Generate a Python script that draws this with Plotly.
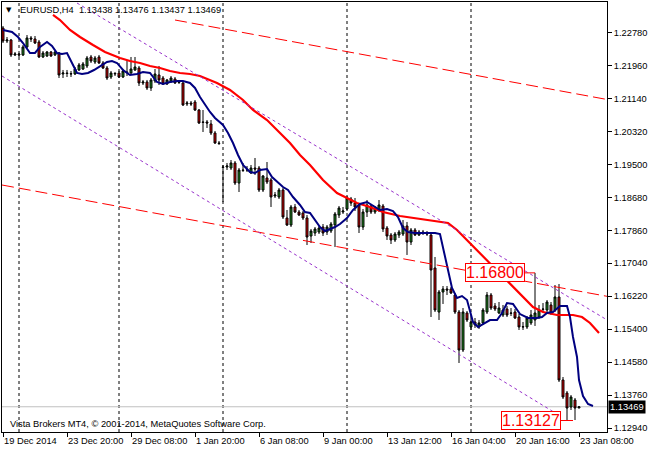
import plotly.graph_objects as go

# EURUSD H4 candles, bar index 0 = 19 Dec 2014
bars = list(range(145))

opens = [
    1.22892, 1.22569, 1.22594, 1.22221, 1.22246, 1.22221, 1.22420, 1.22644, 1.22619, 1.22544,
    1.22171, 1.22196, 1.22295, 1.22221, 1.22270, 1.21748, 1.21773, 1.21748, 1.21748, 1.21848,
    1.21872, 1.21947, 1.22171, 1.22046, 1.22171, 1.22022, 1.21897, 1.21673, 1.21748, 1.21773,
    1.21673, 1.21798, 1.21773, 1.21848, 1.21897, 1.21524, 1.21549, 1.21400, 1.21574, 1.21723,
    1.21648, 1.21499, 1.21574, 1.21624, 1.21549, 1.21524, 1.21002, 1.21026, 1.21051, 1.20852,
    1.20554, 1.20554, 1.20504, 1.20280, 1.20031, 1.19434, 1.19434, 1.19409, 1.19534, 1.19036,
    1.19359, 1.19359, 1.19285, 1.19409, 1.19409, 1.18862, 1.19160, 1.19111, 1.18713, 1.18688,
    1.18862, 1.18165, 1.17991, 1.18439, 1.18314, 1.18290, 1.18165, 1.17717, 1.17792, 1.17817,
    1.17941, 1.17817, 1.17842, 1.17991, 1.18240, 1.18314, 1.18389, 1.18638, 1.18538, 1.18489,
    1.17941, 1.18314, 1.18464, 1.18314, 1.18364, 1.18464, 1.17916, 1.17742, 1.17618, 1.17742,
    1.17767, 1.17966, 1.17568, 1.17867, 1.17742, 1.17817, 1.17792, 1.17742, 1.16921, 1.15826,
    1.16324, 1.16399, 1.16399, 1.16249, 1.15826, 1.14881, 1.15802, 1.15454, 1.15578, 1.15454,
    1.15554, 1.15826, 1.16249, 1.15976, 1.15802, 1.15752, 1.15901, 1.15802, 1.15826, 1.15702,
    1.15454, 1.15454, 1.15554, 1.15628, 1.15702, 1.15901, 1.15876, 1.16001, 1.15876, 1.16200,
    1.14135, 1.13811, 1.13463, 1.13637, 1.13438,
]
highs = [
    1.22942, 1.22668, 1.22619, 1.22295, 1.22270, 1.22469, 1.22718, 1.22693, 1.22693, 1.22594,
    1.22320, 1.22320, 1.22320, 1.22320, 1.22295, 1.21848, 1.21848, 1.21823, 1.21922, 1.22022,
    1.22046, 1.22196, 1.22221, 1.22196, 1.22221, 1.22071, 1.21947, 1.21823, 1.21798, 1.21823,
    1.21872, 1.22096, 1.22171, 1.22171, 1.21947, 1.21599, 1.21599, 1.21648, 1.21872, 1.21947,
    1.21698, 1.21624, 1.21698, 1.21673, 1.21599, 1.21549, 1.21076, 1.21076, 1.21101, 1.20877,
    1.20852, 1.20603, 1.20603, 1.20330, 1.20081, 1.19484, 1.19534, 1.19608, 1.19583, 1.19409,
    1.19534, 1.19459, 1.19484, 1.19658, 1.19459, 1.19235, 1.19558, 1.19160, 1.18812, 1.18912,
    1.18912, 1.18364, 1.18489, 1.18514, 1.18364, 1.18339, 1.18240, 1.17892, 1.17941, 1.17966,
    1.18016, 1.17991, 1.18066, 1.18314, 1.18464, 1.18439, 1.18713, 1.18688, 1.18663, 1.18538,
    1.18389, 1.18613, 1.18514, 1.18464, 1.18613, 1.18514, 1.17966, 1.17792, 1.17817, 1.17867,
    1.18115, 1.18066, 1.17916, 1.17916, 1.17867, 1.17867, 1.17842, 1.17792, 1.17195, 1.16374,
    1.16473, 1.16473, 1.16448, 1.16299, 1.15876, 1.15926, 1.15851, 1.15677, 1.15677, 1.15628,
    1.15926, 1.16324, 1.16299, 1.16050, 1.16075, 1.16001, 1.15976, 1.15926, 1.15901, 1.15777,
    1.15578, 1.15727, 1.15876, 1.16800, 1.16001, 1.16050, 1.16125, 1.16075, 1.16498, 1.16523,
    1.14209, 1.13861, 1.13761, 1.13687, 1.13476,
]
lows = [
    1.22519, 1.22519, 1.22171, 1.22196, 1.22171, 1.22196, 1.22395, 1.22544, 1.22494, 1.22146,
    1.22146, 1.22171, 1.22171, 1.22196, 1.21648, 1.21648, 1.21673, 1.21673, 1.21723, 1.21823,
    1.21848, 1.21897, 1.22022, 1.21997, 1.21997, 1.21872, 1.21599, 1.21624, 1.21698, 1.21648,
    1.21648, 1.21698, 1.21723, 1.21823, 1.21449, 1.21474, 1.21350, 1.21325, 1.21524, 1.21474,
    1.21474, 1.21474, 1.21524, 1.21499, 1.21499, 1.20952, 1.20952, 1.20952, 1.20827, 1.20504,
    1.20305, 1.20404, 1.20230, 1.20006, 1.19981, 1.18563, 1.19359, 1.19359, 1.18986, 1.18812,
    1.19310, 1.19310, 1.19260, 1.19235, 1.18812, 1.18812, 1.19011, 1.18439, 1.18663, 1.18638,
    1.18140, 1.17966, 1.17941, 1.18290, 1.18215, 1.18115, 1.17493, 1.17543, 1.17717, 1.17767,
    1.17717, 1.17742, 1.17792, 1.17444, 1.18165, 1.18265, 1.18339, 1.18464, 1.18339, 1.17792,
    1.17867, 1.18190, 1.18265, 1.18265, 1.18314, 1.17817, 1.17618, 1.17518, 1.17568, 1.17668,
    1.17717, 1.17245, 1.17493, 1.17717, 1.17717, 1.17742, 1.17717, 1.15702, 1.15826, 1.15628,
    1.16026, 1.16249, 1.16274, 1.15777, 1.14558, 1.14831, 1.15578, 1.15379, 1.15429, 1.15404,
    1.15504, 1.15777, 1.15876, 1.15851, 1.15777, 1.15702, 1.15702, 1.15727, 1.15652, 1.15379,
    1.15379, 1.15404, 1.15504, 1.15479, 1.15652, 1.15826, 1.15826, 1.15752, 1.15826, 1.14085,
    1.13662, 1.13127, 1.13388, 1.13139, 1.13437,
]
closes = [
    1.22569, 1.22594, 1.22221, 1.22246, 1.22221, 1.22420, 1.22644, 1.22619, 1.22519, 1.22171,
    1.22270, 1.22295, 1.22196, 1.22295, 1.21723, 1.21773, 1.21760, 1.21755, 1.21872, 1.21972,
    1.21997, 1.22146, 1.22071, 1.22146, 1.22022, 1.21897, 1.21648, 1.21773, 1.21760, 1.21673,
    1.21823, 1.21785, 1.21872, 1.21922, 1.21524, 1.21549, 1.21400, 1.21599, 1.21748, 1.21599,
    1.21499, 1.21599, 1.21648, 1.21524, 1.21540, 1.20977, 1.21026, 1.21002, 1.20852, 1.20529,
    1.20545, 1.20529, 1.20280, 1.20031, 1.20020, 1.19425, 1.19459, 1.19534, 1.19036, 1.19359,
    1.19350, 1.19365, 1.19409, 1.19384, 1.18862, 1.19210, 1.19061, 1.18688, 1.18737, 1.18862,
    1.18190, 1.17991, 1.18439, 1.18314, 1.18240, 1.18165, 1.17692, 1.17842, 1.17892, 1.17916,
    1.17792, 1.17941, 1.18016, 1.18265, 1.18414, 1.18339, 1.18663, 1.18538, 1.18439, 1.17941,
    1.18314, 1.18489, 1.18314, 1.18389, 1.18489, 1.17892, 1.17717, 1.17618, 1.17767, 1.17817,
    1.17966, 1.17568, 1.17867, 1.17742, 1.17817, 1.17792, 1.17767, 1.16871, 1.15876, 1.16324,
    1.16399, 1.16374, 1.16299, 1.15826, 1.14881, 1.15826, 1.15628, 1.15578, 1.15504, 1.15554,
    1.15876, 1.16249, 1.15926, 1.15901, 1.15926, 1.15876, 1.15752, 1.15795, 1.15677, 1.15454,
    1.15460, 1.15677, 1.15752, 1.15802, 1.15876, 1.15895, 1.16075, 1.15802, 1.16200, 1.14135,
    1.13712, 1.13438, 1.13712, 1.13438, 1.13469,
]

# moving averages (bar index, price)
fast_ma_x = [0, 2.25, 3.75, 5, 6.75, 8, 9.25, 11, 12.25, 13.5, 14.75, 16, 17.25, 18.5, 19.75,
             21.25, 22.75, 24.25, 26, 27.25, 28.5, 30, 31.75, 33.5, 35, 36.75, 38.5, 40, 41.75,
             43.5, 45, 46.75, 48, 49.25, 50.5, 51.75, 53, 55, 56.25, 57.5, 58.75, 60, 61.75, 63,
             64.25, 66, 67.25, 68.75, 70, 71.25, 72.5, 74.25, 75.5, 76.75, 78, 79.25, 80.5, 81.75,
             83, 84.25, 86, 87.5, 89.25, 91, 92.5, 94.25, 96, 97.5, 98.75, 100, 101.25, 103,
             105.5, 108, 109.25, 110, 111, 112.25, 113.5, 114.75, 116, 116.75, 117.5, 118.75, 120,
             121.75, 123.5, 124.75, 126, 127.5, 129.25, 131.25, 133.5, 134.75, 136, 137.5, 139.25,
             141, 141.75, 142.5, 143.5, 144, 145, 146.25, 147.5]
fast_ma_y = [1.22843, 1.22793, 1.22668, 1.22519, 1.22270, 1.22270, 1.22420, 1.22544, 1.22445,
             1.22270, 1.22245, 1.22270, 1.22022, 1.21773, 1.21748, 1.21773, 1.21847, 1.21947,
             1.22046, 1.22071, 1.22022, 1.21847, 1.21723, 1.21748, 1.21798, 1.21773, 1.21549,
             1.21499, 1.21549, 1.21574, 1.21574, 1.21524, 1.21400, 1.21176, 1.20977, 1.20802,
             1.20653, 1.20479, 1.20280, 1.20031, 1.19733, 1.19484, 1.19310, 1.19285, 1.19359,
             1.19384, 1.19185, 1.19061, 1.18936, 1.18862, 1.18687, 1.18489, 1.18315, 1.18290,
             1.18115, 1.17941, 1.17842, 1.17891, 1.17941, 1.18016, 1.18165, 1.18364, 1.18513,
             1.18563, 1.18464, 1.18364, 1.18389, 1.18339, 1.18190, 1.17916, 1.17817, 1.17792,
             1.17792, 1.17792, 1.17767, 1.17444, 1.16946, 1.16424, 1.16175, 1.16224, 1.16125,
             1.15826, 1.15577, 1.15453, 1.15528, 1.15627, 1.15627, 1.15801, 1.16050, 1.16025,
             1.15776, 1.15677, 1.15677, 1.15702, 1.15801, 1.15826, 1.15976, 1.15976, 1.15702,
             1.15205, 1.14708, 1.14134, 1.13737, 1.13538, 1.13489]

slow_ma_x = [12.5, 14.25, 16.75, 19.25, 22.5, 25.5, 29.25, 31.75, 34.25, 36.75, 39.25, 41.75,
             44.25, 46.75, 49.25, 51.75, 53.5, 56.75, 60, 62.5, 66, 69.25, 71.75, 74.25, 76.75,
             80, 83.5, 86, 88.5, 91.75, 95, 99.25, 104.25, 107.5, 111.25, 113.5, 116, 118.5,
             121.75, 125, 127.5, 130, 132.5, 135, 138.5, 142.5, 144.75, 146.75, 149]
slow_ma_y = [1.23216, 1.23091, 1.22843, 1.22668, 1.22469, 1.22295, 1.22146, 1.22071, 1.22022,
             1.21947, 1.21897, 1.21822, 1.21773, 1.21748, 1.21698, 1.21599, 1.21524, 1.21350,
             1.21101, 1.20852, 1.20603, 1.20280, 1.20031, 1.19733, 1.19484, 1.19111, 1.18787,
             1.18663, 1.18538, 1.18439, 1.18314, 1.18215, 1.18140, 1.18090, 1.18041, 1.17867,
             1.17618, 1.17369, 1.17046, 1.16697, 1.16448, 1.16200, 1.15951, 1.15827, 1.15752,
             1.15752, 1.15702, 1.15553, 1.15304]

# trend line objects: anchor points (bar, price)
red_upper_x, red_upper_y = [43, 151], [1.23091, 1.21114]
red_lower_x, red_lower_y = [-0.25, 151], [1.18986, 1.16217]
violet_upper_x, violet_upper_y = [18.5, 151], [1.23514, 1.15630]
violet_lower_x, violet_lower_y = [-0.25, 139], [1.21698, 1.13259]

high_mark = 1.16800
high_mark_bar = 133
low_mark = 1.13127
low_mark_bar = 142.5
bid = 1.13469

separator_bars = [4, 29, 55, 86, 117]
tick_bars = [0, 16, 32, 48, 64, 80, 96, 112, 128, 144]
tick_text = ["19 Dec 2014", "23 Dec 20:00", "29 Dec 08:00", "1 Jan 20:00", "6 Jan 08:00",
             "9 Jan 00:00", "13 Jan 12:00", "16 Jan 04:00", "20 Jan 16:00", "23 Jan 08:00"]
price_ticks = [1.12940, 1.13760, 1.14580, 1.15400, 1.16220, 1.17040, 1.17860,
               1.18680, 1.19500, 1.20320, 1.21140, 1.21960, 1.22780]

FONT = "Liberation Sans, Arial, sans-serif"

fig = go.Figure()

fig.add_trace(go.Candlestick(
    x=bars, open=opens, high=highs, low=lows, close=closes,
    increasing=dict(line=dict(color="black", width=1), fillcolor="#1f8f1f"),
    decreasing=dict(line=dict(color="black", width=1), fillcolor="#e00000"),
    whiskerwidth=0, hoverinfo="skip",
))

fig.add_trace(go.Scatter(x=slow_ma_x, y=slow_ma_y, mode="lines",
                         line=dict(color="#ff0000", width=2.2), hoverinfo="skip"))
fig.add_trace(go.Scatter(x=fast_ma_x, y=fast_ma_y, mode="lines",
                         line=dict(color="#000080", width=2), hoverinfo="skip"))

for lx, ly in [(red_upper_x, red_upper_y), (red_lower_x, red_lower_y)]:
    fig.add_trace(go.Scatter(x=lx, y=ly, mode="lines",
                             line=dict(color="#ff0000", width=1, dash="12px,5px"), hoverinfo="skip"))
for lx, ly in [(violet_upper_x, violet_upper_y), (violet_lower_x, violet_lower_y)]:
    fig.add_trace(go.Scatter(x=lx, y=ly, mode="lines",
                             line=dict(color="#9932cc", width=1, dash="3px,3px"), hoverinfo="skip"))

# period separators and bid line
for b in separator_bars:
    fig.add_shape(type="line", xref="x", yref="paper", x0=b, x1=b, y0=0, y1=1,
                  line=dict(color="black", width=1, dash="3px,3px"), layer="below")
fig.add_shape(type="line", xref="paper", yref="y", x0=0, x1=1, y0=bid, y1=bid,
              line=dict(color="#c0c0c0", width=1), layer="below")

# price labels with connectors
fig.add_shape(type="line", xref="x", yref="y", x0=130.5, x1=high_mark_bar, y0=high_mark, y1=high_mark,
              line=dict(color="#ff0000", width=1))
fig.add_shape(type="line", xref="x", yref="y", x0=139.5, x1=low_mark_bar, y0=low_mark, y1=low_mark,
              line=dict(color="#ff0000", width=1))
for px_, val in [(130.5, high_mark), (139.5, low_mark)]:
    fig.add_annotation(x=px_, y=val, xref="x", yref="y", text=f"{val:.5f}", showarrow=False,
                       xanchor="right", yanchor="middle", bgcolor="white",
                       bordercolor="#ff0000", borderwidth=1, borderpad=0,
                       font=dict(family=FONT, size=16, color="#ff0000"))

# bid price box on the axis
fig.add_annotation(x=1, y=bid, xref="paper", yref="y", text=f"{bid:.5f}", showarrow=False,
                   xanchor="left", yanchor="middle", bgcolor="black", borderpad=1, xshift=1,
                   font=dict(family=FONT, size=9.3, color="white"))

# chart title and copyright
fig.add_annotation(x=0.004, y=0.982, xref="paper", yref="paper", text="▼", showarrow=False,
                   xanchor="left", yanchor="middle", font=dict(family="DejaVu Sans", size=7, color="black"))
fig.add_annotation(x=0.027, y=0.981, xref="paper", yref="paper",
                   text="EURUSD,H4  1.13438 1.13476 1.13437 1.13469", showarrow=False,
                   xanchor="left", yanchor="middle", font=dict(family=FONT, size=9.3, color="black"))
fig.add_annotation(x=0.01, y=0.019, xref="paper", yref="paper",
                   text="Vista Brokers MT4, © 2001-2014, MetaQuotes Software Corp.", showarrow=False,
                   xanchor="left", yanchor="middle", font=dict(family=FONT, size=9.3, color="black"))

fig.update_layout(
    width=650, height=450,
    margin=dict(l=2, r=43, t=2, b=18),
    paper_bgcolor="white", plot_bgcolor="white",
    showlegend=False,
    font=dict(family=FONT, size=9.3, color="black"),
    xaxis=dict(range=[-0.25, 151], rangeslider=dict(visible=False), showgrid=False, zeroline=False,
               tickmode="array", tickvals=tick_bars, ticktext=tick_text, tickangle=0,
               ticks="outside", ticklen=4, tickcolor="black", ticklabelposition="outside right",
               showline=True, linecolor="black", linewidth=1, mirror=True, automargin=False),
    yaxis=dict(range=[1.12841, 1.23539], side="right", showgrid=False, zeroline=False,
               tickmode="array", tickvals=price_ticks, tickformat=".5f",
               ticks="outside", ticklen=4, tickcolor="black",
               showline=True, linecolor="black", linewidth=1, mirror=True, automargin=False),
)

# the page is exactly the figure size, so drop the default body margin
fig.write_html("out.html", config={"displayModeBar": False},
               post_script="document.body.style.margin='0';")
